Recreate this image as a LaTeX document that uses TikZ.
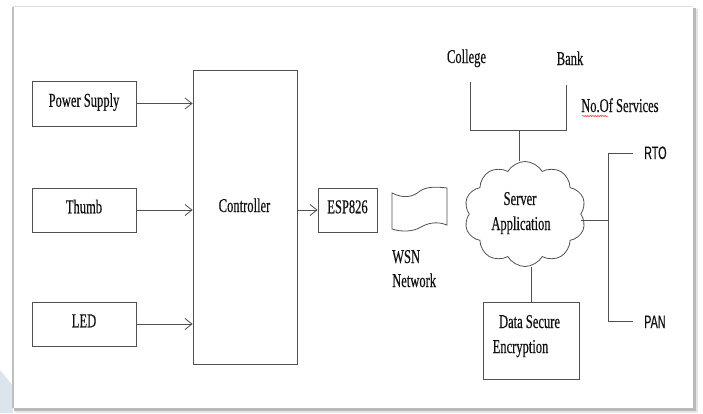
\documentclass[tikz,border=0pt]{standalone}
\usepackage{fontspec}
\setmainfont{Liberation Serif}
\newfontfamily\sqserif{Liberation Serif}[FakeStretch=0.64,FakeBold=0.4]
\newfontfamily\sqsans{Liberation Sans}[FakeStretch=0.6,FakeBold=0.4]
\usetikzlibrary{arrows.meta,shapes.symbols,decorations.pathmorphing}
\definecolor{ln}{HTML}{505050}
\definecolor{tx}{HTML}{111111}
\definecolor{bluish}{HTML}{DCE4EC}
\begin{document}
\begin{tikzpicture}[x=1pt,y=-1pt,
  conn/.style={draw=ln, line width=0.8pt},
  arr/.style={conn, -{Straight Barb[length=7pt,width=11pt]}},
  box/.style={draw=ln, line width=0.8pt, inner sep=0pt, text=tx,
    font=\sqserif\fontsize{19.6}{25}\selectfont, text height=13pt, text depth=6.5pt},
  lbl/.style={inner sep=0pt, text=tx, font=\sqserif\fontsize{19.6}{25}\selectfont, anchor=base},
  llbl/.style={lbl, anchor=base west},
  slbl/.style={inner sep=0pt, text=tx, font=\sqsans\fontsize{18}{22}\selectfont, anchor=base west}]
\useasboundingbox (0,0) rectangle (703,413);
% page frame
\fill[white] (0,0) rectangle (703,413);
\fill[bluish] (0,370) -- (13,386) -- (13,413) -- (0,413) -- cycle;
\fill[gray!20] (15,9) rectangle (698,413);
\fill[gray!55] (14,8) rectangle (696,411);
\fill[white] (13,7) rectangle (693,408);
\draw[gray!25, line width=0.8pt] (13,6.5) -- (693,6.5);
\draw[gray!50, line width=2pt] (12.5,7) -- (12.5,408);
% left blocks
\node[box, minimum width=104pt, minimum height=45pt] (ps) at (84,103.5) {Power Supply};
\node[box, minimum width=104pt, minimum height=44pt] (th) at (84,210) {Thumb};
\node[box, minimum width=104pt, minimum height=44pt] (led) at (84,324) {LED};
\node[box, minimum width=104pt, minimum height=294pt] (ctl) at (245,217) {};
\node[lbl] (ctltxt) at (244.5,212) {Controller};
\node[box, minimum width=59pt, minimum height=44pt] (esp) at (347.5,210) {ESP826};
\draw[arr] (ps.east) -- (ps.east -| ctl.west);
\draw[arr] (th.east) -- (th.east -| ctl.west);
\draw[arr] (led.east) -- (led.east -| ctl.west);
\draw[arr] (ctl.east |- esp.west) -- (esp.west);
% WSN network shape
\draw[conn] (392,193) .. controls (404,199) and (413,197) .. (420,191)
  .. controls (427,186) and (439,187) .. (447,188) -- (447,225)
  .. controls (437,221) and (428,223) .. (421,227)
  .. controls (413,232) and (401,232) .. (392,229) -- cycle;
\node[llbl] (wsn1) at (392,263) {WSN};
\node[llbl] (wsn2) at (392,287) {Network};
% server cloud
\node[cloud, draw=ln, line width=0.8pt, cloud puffs=10, cloud puff arc=120, aspect=1.15,
  minimum width=122pt, minimum height=105pt, inner sep=0pt] (srv) at (525,214) {};
\node[lbl] (s1) at (520,205) {Server};
\node[lbl] (s2) at (521,230) {Application};
% services bracket
\node[lbl] (col) at (466.5,63) {College};
\node[lbl] (bank) at (570,65) {Bank};
\node[llbl] (nos) at (581,112) {No.Of Services};
\draw[red!80, line width=0.5pt, decorate, decoration={snake, amplitude=0.6pt, segment length=2.5pt}]
  ([xshift=1pt,yshift=-4pt]nos.base west) -- ++(26,0);
\coordinate (cl) at (470,82);
\coordinate (bk) at (566,85);
\coordinate (bm) at (519,130);
\draw[conn] (cl) -- (cl |- bm) -- (bk |- bm) -- (bk);
\draw[conn] (bm) -- (bm |- srv.north);
% RTO / PAN
\coordinate (jn) at (608,220);
\coordinate (rtoj) at (608,153);
\coordinate (panj) at (608,321);
\node[slbl] (rto) at (644,159) {RTO};
\node[slbl] (pan) at (644,328) {PAN};
\coordinate (rtoe) at (633,153);
\coordinate (pane) at (633,321);
\draw[conn] (srv.east |- jn) -- (jn);
\draw[conn] (rtoe) -- (rtoj) -- (panj) -- (pane);
% data secure encryption
\node[box, minimum width=96pt, minimum height=77pt] (dse) at (531,340.5) {};
\node[lbl] (d1) at (529.5,328) {Data Secure};
\node[lbl] (d2) at (520.5,353) {Encryption};
\draw[conn] (dse.north) -- (dse.north |- srv.south);
\end{tikzpicture}
\end{document}
